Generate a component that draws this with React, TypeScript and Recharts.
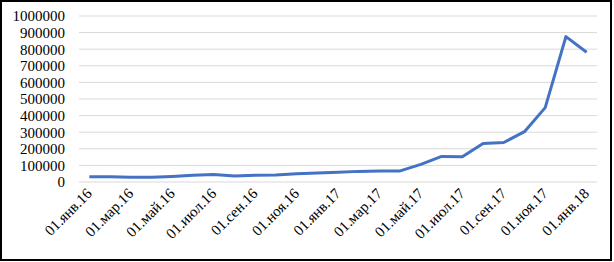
import React from "react";
import { LineChart, Line, XAxis, YAxis, CartesianGrid } from "recharts";

const categories: string[] = [
  "01.янв.16", "01.фев.16", "01.мар.16", "01.апр.16", "01.май.16", "01.июн.16",
  "01.июл.16", "01.авг.16", "01.сен.16", "01.окт.16", "01.ноя.16", "01.дек.16",
  "01.янв.17", "01.фев.17", "01.мар.17", "01.апр.17", "01.май.17", "01.июн.17",
  "01.июл.17", "01.авг.17", "01.сен.17", "01.окт.17", "01.ноя.17", "01.дек.17",
  "01.янв.18",
];

const values: number[] = [
  32000, 32000, 28000, 28000, 33000, 40000, 45000, 36000, 41000, 42000, 50000, 54000,
  58000, 64000, 66000, 67000, 106000, 154000, 152000, 232000, 238000, 303000, 448000,
  876000, 782000,
];

const yTicks: number[] = [0, 100000, 200000, 300000, 400000, 500000, 600000, 700000, 800000, 900000, 1000000];

const data = categories.map((label, i) => ({ pos: i + 0.5, label, value: values[i] }));
const n = categories.length;
const boundaryTicks = categories.map((_, i) => i).filter((i) => i % 2 === 0);
const labelTicks = boundaryTicks.map((i) => i + 0.5);

const FONT = "'Liberation Serif', 'Times New Roman', serif";

const XLabel = (props: any) => {
  const { x, y, payload } = props;
  const idx = Math.round(payload.value - 0.5);
  return (
    <text
      x={x}
      y={y}
      transform={`rotate(-45 ${x} ${y})`}
      textAnchor="end"
      dominantBaseline="central"
      fontSize={15}
      fontFamily={FONT}
      fill="#000"
    >
      {categories[idx]}
    </text>
  );
};

export default function App() {
  return (
    <div style={{ position: "absolute", left: 0, top: 0, width: 614, height: 262, background: "#fff" }}>
      <div
        style={{
          position: "absolute",
          left: 0,
          top: 0,
          width: 612,
          height: 261,
          border: "2px solid #000",
          boxSizing: "border-box",
        }}
      />
      <div style={{ position: "absolute", left: 0, top: 0 }}>
        <LineChart width={614} height={262} data={data} margin={{ top: 16, right: 17, left: 0, bottom: 0 }}>
          <CartesianGrid horizontal={true} vertical={false} stroke="#d9d9d9" strokeWidth={1} xAxisId="x" />
          <XAxis
            xAxisId="x"
            dataKey="pos"
            type="number"
            domain={[0, n]}
            ticks={boundaryTicks}
            interval={0}
            height={0}
            tick={false}
            tickLine={{ stroke: "#d9d9d9" }}
            tickSize={5}
            axisLine={{ stroke: "#d9d9d9" }}
          />
          <XAxis
            xAxisId="lbl"
            dataKey="pos"
            type="number"
            domain={[0, n]}
            ticks={labelTicks}
            interval={0}
            height={80}
            tick={<XLabel />}
            tickLine={false}
            axisLine={false}
            tickSize={0}
            tickMargin={9}
          />
          <YAxis
            width={79}
            domain={[0, 1000000]}
            ticks={yTicks}
            interval={0}
            axisLine={false}
            tickLine={false}
            tickSize={0}
            tickMargin={14}
            tick={{ fontSize: 15, fontFamily: FONT, fill: "#000" }}
          />
          <Line
            xAxisId="x"
            type="linear"
            dataKey="value"
            stroke="#4472C4"
            strokeWidth={3}
            dot={false}
            strokeLinejoin="round"
            isAnimationActive={false}
          />
        </LineChart>
      </div>
    </div>
  );
}
